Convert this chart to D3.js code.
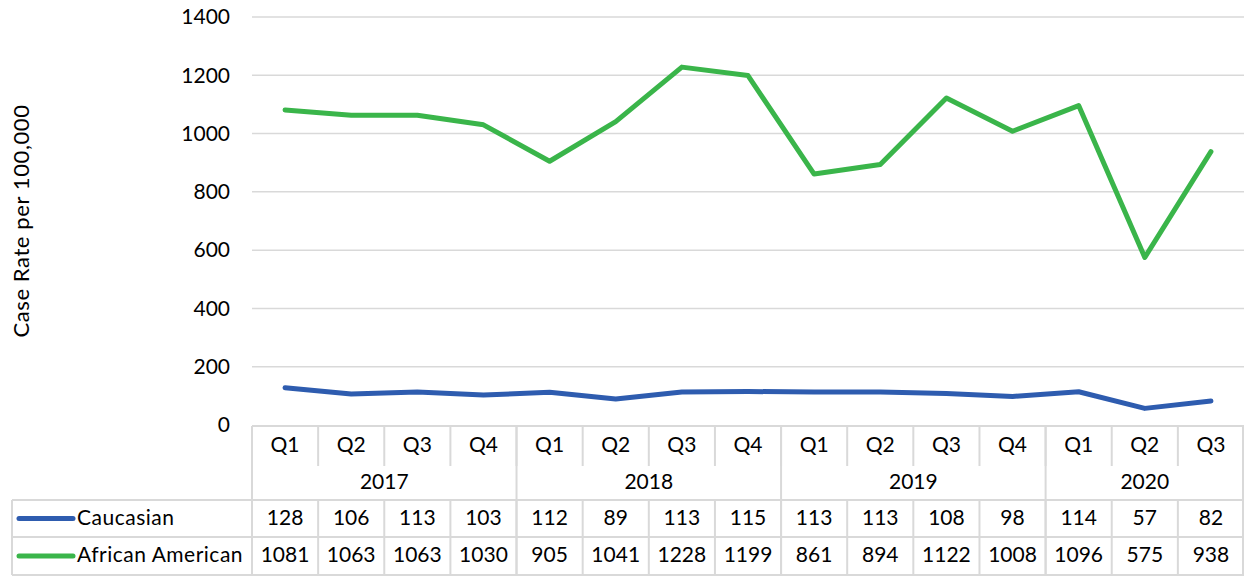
<!DOCTYPE html>
<html><head><meta charset="utf-8">
<script src="https://cdn.jsdelivr.net/npm/d3@7"></script>
<style>
body{margin:0;background:#fff;}
text{font-family:Lato,"Open Sans",sans-serif;fill:#000;}
</style></head>
<body><svg id="c" width="1244" height="581"></svg>
<script>
const quarters = ["Q1","Q2","Q3","Q4","Q1","Q2","Q3","Q4","Q1","Q2","Q3","Q4","Q1","Q2","Q3"];
const years = ["2017","2018","2019","2020"];
const yearCounts = [4,4,4,3];
const caucasian = [128,106,113,103,112,89,113,115,113,113,108,98,114,57,82];
const african = [1081,1063,1063,1030,905,1041,1228,1199,861,894,1122,1008,1096,575,938];
const seriesNames = ["Caucasian","African American"];
const seriesColors = ["#2E5CAF","#3AB54A"];
const yTicks = [0,200,400,600,800,1000,1200,1400];

(function(){
const FS = 21;
const svg = d3.select("#c");
const pLeft = 252, pRight = 1244, pTop = 17, pBottom = 425;
const x = d3.scaleBand().domain(d3.range(quarters.length)).range([pLeft,pRight]);
const y = d3.scaleLinear().domain([0,1400]).range([pBottom,pTop]);
const grid = "#d9d9d9";

svg.append("g").selectAll("line").data(yTicks.filter(d=>d>0)).join("line")
  .attr("x1",pLeft).attr("x2",pRight).attr("y1",d=>y(d)).attr("y2",d=>y(d))
  .attr("stroke",grid).attr("stroke-width",1.5);

const yAxis = svg.append("g").attr("transform",`translate(${pLeft-22},0)`)
  .call(d3.axisLeft(y).tickValues(yTicks).tickFormat(d3.format("d")).tickSize(0).tickPadding(0));
yAxis.select(".domain").remove();
yAxis.selectAll("text").attr("font-size",FS).attr("font-family","Lato,sans-serif").attr("fill","#000").attr("dy","0.32em");

svg.append("text").attr("transform","translate(21,221) rotate(-90)")
  .attr("text-anchor","middle").attr("dy","0.35em").attr("font-size",22).attr("letter-spacing",0.6).text("Case Rate per 100,000");

const line = d3.line().x((d,i)=>x(i)+x.bandwidth()/2).y(d=>y(d));
[caucasian,african].forEach((s,k)=>{
  svg.append("path").datum(s).attr("d",line).attr("fill","none")
    .attr("stroke",seriesColors[k]).attr("stroke-width",5)
    .attr("stroke-linejoin","round").attr("stroke-linecap","round");
});

const rowQ = [426,465], rowY=[465,500], rowC=[500,537], rowA=[537,575];
const tleft = 12;
const tg = svg.append("g");
const L = (x1,y1,x2,y2)=>tg.append("line").attr("x1",x1).attr("y1",y1).attr("x2",x2).attr("y2",y2).attr("stroke",grid).attr("stroke-width",2);
L(pLeft,rowQ[0],pRight,rowQ[0]);
L(tleft,rowY[1],pRight,rowY[1]);
L(tleft,rowC[1],pRight,rowC[1]);
L(tleft,rowA[1],pRight,rowA[1]);
d3.range(1,quarters.length).forEach(i=>{ L(x(i),rowQ[0],x(i),rowQ[1]+1); });
let cum=0; const yb=[0];
yearCounts.forEach(c=>{cum+=c; yb.push(cum);});
yb.forEach(i=>{ const xx = i<quarters.length? x(i): pRight-1; L(xx,rowQ[0],xx,rowA[1]); });
d3.range(1,quarters.length).forEach(i=>{ L(x(i),rowY[1],x(i),rowA[1]); });
L(tleft,rowY[1],tleft,rowA[1]);

tg.append("g").selectAll("text").data(quarters).join("text")
  .attr("x",(d,i)=>x(i)+x.bandwidth()/2).attr("y",(rowQ[0]+rowQ[1])/2-1).attr("dy","0.35em")
  .attr("text-anchor","middle").attr("font-size",FS).text(d=>d);
tg.append("g").selectAll("text").data(years).join("text")
  .attr("x",(d,i)=>(x(yb[i]) + (yb[i+1]<quarters.length? x(yb[i+1]) : pRight))/2)
  .attr("y",(rowY[0]+rowY[1])/2-1).attr("dy","0.35em")
  .attr("text-anchor","middle").attr("font-size",FS).text(d=>d);
[[caucasian,rowC],[african,rowA]].forEach(([s,r],k)=>{
  const cy = (r[0]+r[1])/2-1;
  tg.append("g").selectAll("text").data(s).join("text")
    .attr("x",(d,i)=>x(i)+x.bandwidth()/2).attr("y",cy).attr("dy","0.35em")
    .attr("text-anchor","middle").attr("font-size",FS).text(d=>d);
  tg.append("line").attr("x1",19).attr("x2",73).attr("y1",cy+1).attr("y2",cy+1)
    .attr("stroke",seriesColors[k]).attr("stroke-width",5).attr("stroke-linecap","round");
  tg.append("text").attr("x",77).attr("y",cy).attr("dy","0.35em")
    .attr("font-size",FS).attr("letter-spacing",0.5).text(seriesNames[k]);
});
})();
</script></body></html>
